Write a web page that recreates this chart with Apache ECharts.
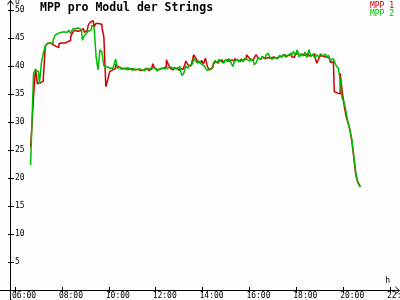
<!DOCTYPE html>
<html><head><meta charset="utf-8">
<script src="https://cdn.jsdelivr.net/npm/echarts@6/dist/echarts.min.js"></script>
<style>html,body{margin:0;padding:0;background:#fdfdfd}#c{width:400px;height:300px}</style>
</head><body><div id="c"></div>
<script>
const chartTitle = 'MPP pro Modul der Strings';
const seriesNames = ['MPP 1', 'MPP 2'];
const seriesColors = ['#cc0000', '#00bb00'];
const startHour = 6 + 40 / 60;   // first sample 06:40
const stepHours = 5 / 60;        // 5-minute samples
const xTickHours = [6, 8, 10, 12, 14, 16, 18, 20, 22];
const yTickValues = [0, 5, 10, 15, 20, 25, 30, 35, 40, 45, 50];

const mpp1 = [
  25.5, 28.4, 34.5, 39.5, 36.8, 37.0, 37.3, 37.8, 43.5, 44.0,
  44.1, 43.8, 43.5, 43.5, 43.3, 44.0, 44.1, 44.1, 44.1, 44.3,
  44.6, 45.2, 46.0, 46.4, 46.2, 46.3, 46.6, 46.7, 46.0, 46.3,
  47.3, 47.8, 48.1, 47.0, 47.6, 47.6, 47.4, 46.9, 45.2, 36.3,
  37.6, 39.0, 39.3, 39.6, 40.3, 39.9, 39.7, 39.5, 39.8, 39.6,
  39.4, 39.7, 39.5, 39.3, 39.6, 39.4, 39.2, 39.5, 39.3, 39.6,
  39.4, 39.2, 39.5, 40.4, 39.6, 39.3, 39.5, 39.2, 39.6, 39.9,
  41.1, 40.3, 39.6, 39.3, 39.7, 39.5, 39.2, 39.6, 39.4, 39.8,
  40.9, 40.2, 40.0, 40.6, 42.0, 41.4, 40.8, 40.5, 41.0, 40.4,
  41.4, 39.9, 39.3, 39.6, 40.2, 40.8, 40.5, 40.9, 41.1, 40.7,
  41.0, 41.2, 40.8, 41.1, 40.9, 41.3, 41.0, 40.8, 41.2, 41.0,
  41.3, 42.0, 41.6, 41.2, 41.0, 41.5, 42.0, 41.4, 41.2, 41.6,
  41.3, 41.5, 41.2, 41.4, 41.6, 41.3, 41.4, 41.7, 41.5, 41.8,
  42.0, 41.6, 41.9, 42.1, 41.7, 41.5, 42.0, 42.3, 41.8, 42.1,
  41.9, 41.6, 42.2, 41.8, 41.9, 42.2, 41.7, 40.5, 41.3, 41.9,
  41.7, 41.6, 41.9, 41.4, 40.6, 40.8, 35.4, 35.2, 35.0, 38.7,
  35.5, 33.0, 31.0, 29.8, 28.6, 26.5, 23.5, 20.5, 19.3, 18.6
];
const mpp2 = [
  22.3, 28.0, 38.7, 39.3, 39.0, 36.8, 40.5, 42.3, 43.6, 44.0,
  44.1, 44.0, 44.6, 45.5, 45.8, 46.0, 45.9, 46.1, 46.0, 46.2,
  46.4, 45.8, 46.6, 46.7, 46.8, 46.6, 46.5, 44.6, 45.4, 45.8,
  46.2, 46.4, 47.3, 46.9, 41.7, 39.3, 42.9, 42.5, 40.0, 39.9,
  39.6, 39.3, 39.6, 40.0, 41.2, 39.6, 39.8, 39.4, 39.6, 39.3,
  39.7, 39.5, 39.2, 39.6, 39.3, 39.5, 39.7, 39.3, 39.1, 39.5,
  39.4, 39.6, 39.3, 39.7, 39.5, 39.1, 39.4, 39.6, 39.3, 39.5,
  39.7, 39.4, 39.8, 39.5, 39.3, 39.6, 39.9, 39.4, 38.3, 38.8,
  40.0, 39.6, 40.1, 40.4, 41.4, 40.9, 40.5, 40.9, 40.3, 40.0,
  39.6, 39.2, 39.5, 39.8, 40.5, 41.0, 40.6, 41.2, 40.8, 40.5,
  41.1, 40.8, 41.3, 40.7, 39.9, 40.9, 41.2, 40.7, 41.1, 40.8,
  41.4, 41.1, 40.9, 41.3, 41.0, 40.2, 40.6, 41.5, 41.2, 41.7,
  41.4, 41.9, 42.3, 41.6, 41.2, 41.5, 41.3, 41.6, 41.9, 41.5,
  42.1, 41.7, 42.0, 42.3, 41.8, 42.6, 41.9, 42.9, 41.6, 42.2,
  41.8, 42.5, 41.5, 42.9, 41.7, 42.1, 41.4, 42.0, 41.6, 42.2,
  41.8, 42.1, 41.5, 41.9, 41.0, 41.3, 40.8, 40.0, 39.6, 37.5,
  34.2, 33.6, 31.8, 30.0, 28.5, 26.8, 23.8, 21.0, 19.2, 18.5
];

const pairs = vals => vals.map((v, i) => [startHour + i * stepHours, v]);
const fmtHour = h => (h < 10 ? '0' : '') + h + ':00';
const font = 'DejaVu Sans Mono';

const chart = echarts.init(document.getElementById('c'), null, {renderer: 'canvas'});
const xBase = {
  type: 'value', min: xTickHours[0], max: xTickHours[xTickHours.length - 1],
  interval: 2, position: 'bottom', axisLine: {show: false}, splitLine: {show: false}
};
const yBase = {
  type: 'value', min: yTickValues[0], max: yTickValues[yTickValues.length - 1],
  interval: 5, position: 'left', offset: 4, axisLine: {show: false}, splitLine: {show: false}
};
chart.setOption({
  animation: false,
  backgroundColor: '#fdfdfd',
  title: {
    text: chartTitle, left: 40, top: 2, padding: 0,
    textStyle: {fontFamily: font, fontWeight: 'bold', fontSize: 11.5, color: '#000'}
  },
  legend: {
    orient: 'vertical', right: 6, top: 2, padding: 0, itemGap: 0,
    itemWidth: 0, itemHeight: 0, icon: 'rect', align: 'left',
    textStyle: {fontFamily: font, fontSize: 8, lineHeight: 7.5, padding: 0},
    data: seriesNames.map((n, k) => ({name: n, textStyle: {color: seriesColors[k]}}))
  },
  grid: {left: 15, right: 10, top: 10, bottom: 10, containLabel: false, outerBoundsMode: 'none'},
  xAxis: [
    Object.assign({}, xBase, {
      name: 'h', nameLocation: 'end', nameGap: 0,
      nameTextStyle: {fontFamily: font, fontSize: 8, color: '#000', align: 'right', verticalAlign: 'bottom', padding: [0, 0, 5, 0]},
      axisTick: {show: true, length: 3, inside: false, lineStyle: {color: '#000'}},
      axisLabel: {
        show: true, margin: 2, align: 'left', color: '#000', fontFamily: font, fontSize: 8,
        hideOverlap: false,
        formatter: v => '{a|' + fmtHour(v) + '}',
        rich: {a: {fontFamily: font, fontSize: 8, color: '#000', padding: [0, 0, 0, -3]}}
      }
    }),
    Object.assign({}, xBase, {
      axisTick: {show: true, length: 3, inside: true, lineStyle: {color: '#000'}},
      axisLabel: {show: false}
    })
  ],
  yAxis: [
    Object.assign({}, yBase, {
      name: 'U', nameLocation: 'end', nameGap: 4,
      nameTextStyle: {fontFamily: font, fontSize: 8, color: '#000', align: 'left', verticalAlign: 'bottom', padding: [0, 0, 0, 4]},
      axisTick: {show: true, length: 3, inside: false, lineStyle: {color: '#000'}},
      axisLabel: {
        show: true, inside: true, margin: 4, color: '#000', fontFamily: font, fontSize: 8,
        formatter: v => (v === 0 ? '' : String(v))
      }
    }),
    Object.assign({}, yBase, {
      axisTick: {show: true, length: 3, inside: true, lineStyle: {color: '#000'}},
      axisLabel: {show: false}
    })
  ],
  graphic: [
    {type: 'polyline', shape: {points: [[10.5, 300], [10.5, 0.5]]}, style: {stroke: '#000', lineWidth: 1, fill: null}},
    {type: 'polyline', shape: {points: [[7.5, 4.5], [10.5, 0.5], [13.5, 4.5]]}, style: {stroke: '#000', lineWidth: 1, fill: null}},
    {type: 'polyline', shape: {points: [[0, 290.5], [399.5, 290.5]]}, style: {stroke: '#000', lineWidth: 1, fill: null}},
    {type: 'polyline', shape: {points: [[395.5, 287], [399.5, 290.5], [395.5, 294]]}, style: {stroke: '#000', lineWidth: 1, fill: null}}
  ],
  series: [
    {name: seriesNames[0], type: 'line', step: 'middle', showSymbol: false, xAxisIndex: 0, yAxisIndex: 0,
     data: pairs(mpp1), lineStyle: {color: seriesColors[0], width: 1.5}, itemStyle: {color: seriesColors[0]}},
    {name: seriesNames[1], type: 'line', step: 'middle', showSymbol: false, xAxisIndex: 0, yAxisIndex: 0,
     data: pairs(mpp2), lineStyle: {color: seriesColors[1], width: 1.5}, itemStyle: {color: seriesColors[1]}}
  ]
});
</script>
</body></html>
